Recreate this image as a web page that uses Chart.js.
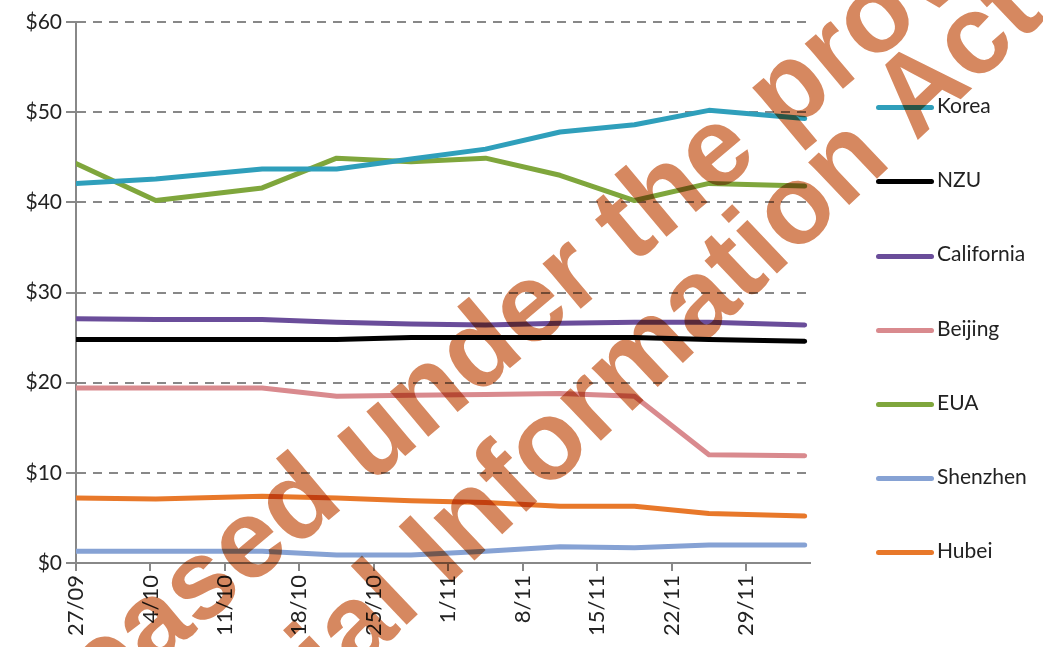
<!DOCTYPE html>
<html>
<head>
<meta charset="utf-8">
<script src="https://cdn.jsdelivr.net/npm/chart.js@4.4.0/dist/chart.umd.min.js"></script>
<style>
html, body { margin: 0; padding: 0; background: #fff; }
#wrap { position: relative; width: 1043px; height: 647px; background: #fff; }
#chart, #stamp { position: absolute; left: 0; top: 0; }
#stamp { pointer-events: none; mix-blend-mode: multiply; }
#legend { position: absolute; left: 876px; top: 0; font-family: Lato, "Open Sans", sans-serif; font-size: 21px; color: #222; }
#legend .item { position: absolute; left: 0; white-space: nowrap; height: 24px; line-height: 24px; }
#legend .swatch { display: inline-block; width: 58px; height: 5px; border-radius: 3px; vertical-align: middle; margin-right: 3px; }
</style>
</head>
<body>
<div id="wrap">
<canvas id="chart" width="1043" height="647"></canvas>
<div id="legend"></div>
<canvas id="stamp" width="1043" height="647"></canvas>
</div>
<script>
// days after 27/09 for each observation
const days = [0, 7.5, 17.5, 24.5, 31.5, 38.5, 45.5, 52.5, 59.5, 68.5];
const weekLabels = ['27/09', '4/10', '11/10', '18/10', '25/10', '1/11', '8/11', '15/11', '22/11', '29/11'];

const korea      = [42.1, 42.6, 43.7, 43.7, 44.8, 45.9, 47.8, 48.6, 50.2, 49.3];
const nzu        = [24.8, 24.8, 24.8, 24.8, 25.0, 25.0, 25.0, 25.0, 24.8, 24.6];
const california = [27.1, 27.0, 27.0, 26.7, 26.5, 26.4, 26.6, 26.7, 26.7, 26.4];
const beijing    = [19.4, 19.4, 19.4, 18.5, 18.6, 18.7, 18.8, 18.5, 12.0, 11.9];
const eua        = [44.3, 40.2, 41.6, 44.9, 44.5, 44.9, 43.0, 40.2, 42.1, 41.8];
const shenzhen   = [1.3, 1.3, 1.3, 0.9, 0.9, 1.3, 1.8, 1.7, 2.0, 2.0];
const hubei      = [7.2, 7.1, 7.4, 7.2, 6.9, 6.7, 6.3, 6.3, 5.5, 5.2];

const seriesNames = ['Korea', 'NZU', 'California', 'Beijing', 'EUA', 'Shenzhen', 'Hubei'];
const seriesValues = [korea, nzu, california, beijing, eua, shenzhen, hubei];
const seriesColors = ['#2f9fbb', '#000000', '#6a4d9a', '#d98a8e', '#7fa63c', '#86a2d4', '#e8782a'];

const FONT = 'Lato, "Open Sans", sans-serif';

function points(values) {
    return days.map((d, i) => ({ x: d, y: values[i] }));
}

// legend on the right, one row every 74px
var legend = document.getElementById('legend');
seriesNames.forEach(function (name, i) {
    var item = document.createElement('div');
    item.className = 'item';
    item.style.top = (105 + i * 74.2 - 12) + 'px';
    item.innerHTML = '<span class="swatch" style="background:' + seriesColors[i] + '"></span>' + name;
    legend.appendChild(item);
});

// watermark stamped over the whole scan
function drawStamp() {
    var ctx = document.getElementById('stamp').getContext('2d');
    ctx.fillStyle = 'rgb(214,136,96)';
    ctx.font = 'bold 112px "Liberation Sans"';
    ctx.textBaseline = 'middle';

    ctx.save();
    ctx.translate(350, 462);
    ctx.rotate(-40 * Math.PI / 180);
    ctx.fillText('Released under the provisions of the', -ctx.measureText('Released ').width, 0);
    ctx.restore();

    ctx.save();
    ctx.translate(425, 565);
    ctx.rotate(-43.5 * Math.PI / 180);
    ctx.fillText('Official Information Act 1982', -ctx.measureText('Official ').width, 0);
    ctx.restore();
}

new Chart(document.getElementById('chart').getContext('2d'), {
    type: 'line',
    data: {
        datasets: seriesNames.map((name, i) => ({
            label: name,
            data: points(seriesValues[i]),
            borderColor: seriesColors[i],
            backgroundColor: seriesColors[i],
            borderWidth: 5,
            pointRadius: 0,
            tension: 0,
            borderCapStyle: 'round',
            borderJoinStyle: 'round'
        }))
    },
    options: {
        responsive: false,
        animation: false,
        layout: { padding: { top: 22, left: 0, right: 233, bottom: 0 } },
        plugins: {
            tooltip: { enabled: false },
            legend: { display: false }
        },
        scales: {
            x: {
                type: 'linear',
                min: 0,
                max: 69,
                afterBuildTicks: s => { s.ticks = s.ticks.filter(t => t.value % 7 === 0 && t.value <= 63); },
                afterFit: s => { s.height = 84; },
                ticks: {
                    stepSize: 7,
                    autoSkip: false,
                    minRotation: 90,
                    maxRotation: 90,
                    padding: 4,
                    color: '#222',
                    font: { family: FONT, size: 22 },
                    callback: v => weekLabels[v / 7]
                },
                grid: { drawOnChartArea: false, drawTicks: true, tickLength: 8, color: '#888', lineWidth: 2 },
                border: { color: '#888', width: 2 }
            },
            y: {
                min: 0,
                max: 60,
                afterFit: s => { s.width = 76; },
                ticks: {
                    stepSize: 10,
                    padding: 4,
                    color: '#222',
                    font: { family: FONT, size: 21 },
                    callback: v => '$' + v
                },
                grid: { color: '#888', lineWidth: 2, tickLength: 10 },
                border: { color: '#888', width: 2, dash: [9, 7] }
            }
        }
    }
});

drawStamp();
</script>
</body>
</html>
